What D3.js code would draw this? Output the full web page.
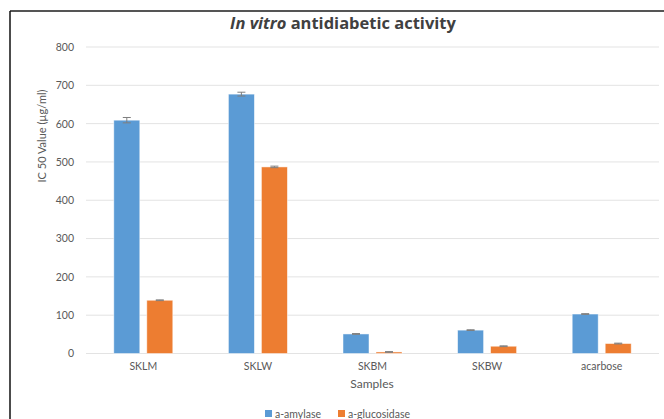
<!DOCTYPE html>
<html>
<head>
<meta charset="utf-8">
<title>In vitro antidiabetic activity</title>
<script src="https://d3js.org/d3.v7.min.js"></script>
<style>
  body { margin: 0; background: #fff; }
  text { font-family: Lato, "Open Sans", sans-serif; }
</style>
</head>
<body>
<div id="chart"></div>
<script>
// data
var samples = ["SKLM", "SKLW", "SKBM", "SKBW", "acarbose"];
var seriesNames = ["a-amylase", "a-glucosidase"];
var amylase = [609, 677, 51, 61, 103];
var amylaseErr = [7, 5, 1, 1, 1];
var glucosidase = [139, 487, 4, 19, 26];
var glucosidaseErr = [1, 2, 1, 1, 1];
var yTicks = [0, 100, 200, 300, 400, 500, 600, 700, 800];
var colors = ["#5b9bd5", "#ed7d31"];

var width = 664, height = 419;
var plot = {left: 86, right: 659, top: 47, bottom: 353.5};

var svg = d3.select("#chart").append("svg")
    .attr("width", width)
    .attr("height", height);

// frame edges (top and left only, as in the cropped image)
svg.append("line")
    .attr("x1", 10).attr("x2", width).attr("y1", 11).attr("y2", 11)
    .attr("stroke", "#555").attr("stroke-width", 2);
svg.append("line")
    .attr("x1", 10).attr("x2", 10).attr("y1", 11).attr("y2", height)
    .attr("stroke", "#111").attr("stroke-width", 1.5);

var x = d3.scaleBand()
    .domain(samples)
    .range([plot.left, plot.right]);

var y = d3.scaleLinear()
    .domain([0, 800])
    .range([plot.bottom, plot.top]);

// gridlines
svg.append("g").selectAll("line")
    .data(yTicks)
    .enter().append("line")
    .attr("x1", plot.left).attr("x2", plot.right)
    .attr("y1", function(d) { return y(d); })
    .attr("y2", function(d) { return y(d); })
    .attr("stroke", "#e3e3e3")
    .attr("stroke-width", 1);

// y tick labels
var yAxis = svg.append("g")
    .attr("transform", "translate(" + (plot.left - 12) + ",0)")
    .call(d3.axisLeft(y).tickValues(yTicks).tickSize(0).tickPadding(0));
yAxis.select(".domain").remove();
yAxis.selectAll("text")
    .attr("fill", "#595959")
    .style("font-size", "10.5px");

// x tick labels
var xAxis = svg.append("g")
    .attr("transform", "translate(0," + plot.bottom + ")")
    .call(d3.axisBottom(x).tickSize(0).tickPadding(9));
xAxis.select(".domain").remove();
xAxis.selectAll("text")
    .attr("fill", "#595959")
    .style("font-size", "10.5px");

// bars
var barW = 26, gap = 7;
var series = [
  {vals: amylase, errs: amylaseErr},
  {vals: glucosidase, errs: glucosidaseErr}
];

series.forEach(function(s, si) {
  var off = si === 0 ? -(barW + gap / 2) : gap / 2;
  var data = samples.map(function(c, i) { return {c: c, v: s.vals[i], e: s.errs[i]}; });
  var g = svg.append("g");
  g.selectAll("rect")
      .data(data)
      .enter().append("rect")
      .attr("x", function(d) { return x(d.c) + x.bandwidth() / 2 + off; })
      .attr("y", function(d) { return y(d.v); })
      .attr("width", barW)
      .attr("height", function(d) { return y(0) - y(d.v); })
      .attr("fill", colors[si])
      .attr("stroke", "#fff")
      .attr("stroke-opacity", 0.6)
      .attr("stroke-width", 0.8);

  // error bars
  var eb = g.selectAll(".err")
      .data(data)
      .enter().append("g")
      .attr("class", "err")
      .attr("stroke", "#7f7f7f")
      .attr("stroke-width", 1);
  eb.append("line")
      .attr("x1", function(d) { return x(d.c) + x.bandwidth() / 2 + off + barW / 2; })
      .attr("x2", function(d) { return x(d.c) + x.bandwidth() / 2 + off + barW / 2; })
      .attr("y1", function(d) { return y(d.v - d.e); })
      .attr("y2", function(d) { return y(d.v + d.e); });
  [1, -1].forEach(function(sign) {
    eb.append("line")
        .attr("x1", function(d) { return x(d.c) + x.bandwidth() / 2 + off + barW / 2 - 4; })
        .attr("x2", function(d) { return x(d.c) + x.bandwidth() / 2 + off + barW / 2 + 4; })
        .attr("y1", function(d) { return y(d.v + sign * d.e); })
        .attr("y2", function(d) { return y(d.v + sign * d.e); });
  });
});

// title
var title = svg.append("text")
    .attr("x", 343)
    .attr("y", 29)
    .attr("text-anchor", "middle")
    .attr("fill", "#404040")
    .style("font-family", "'Open Sans', sans-serif")
    .style("font-size", "16.5px")
    .style("font-weight", "bold");
title.append("tspan").style("font-style", "italic").text("In vitro");
title.append("tspan").text(" antidiabetic activity");

// axis titles
svg.append("text")
    .attr("transform", "translate(46,136) rotate(-90)")
    .attr("text-anchor", "middle")
    .attr("fill", "#595959")
    .style("font-size", "11px")
    .text("IC 50 Value (µg/ml)");

svg.append("text")
    .attr("x", 372)
    .attr("y", 388)
    .attr("text-anchor", "middle")
    .attr("fill", "#595959")
    .style("font-size", "12px")
    .text("Samples");

// legend
var legX = [265, 338];
var legend = svg.append("g").selectAll("g")
    .data(seriesNames)
    .enter().append("g")
    .attr("transform", function(d, i) { return "translate(" + legX[i] + ",410)"; });
legend.append("rect")
    .attr("width", 7).attr("height", 7)
    .attr("fill", function(d, i) { return colors[i]; });
legend.append("text")
    .attr("x", 10)
    .attr("y", 7.5)
    .attr("fill", "#595959")
    .style("font-size", "10.5px")
    .text(function(d) { return d; });
</script>
</body>
</html>
